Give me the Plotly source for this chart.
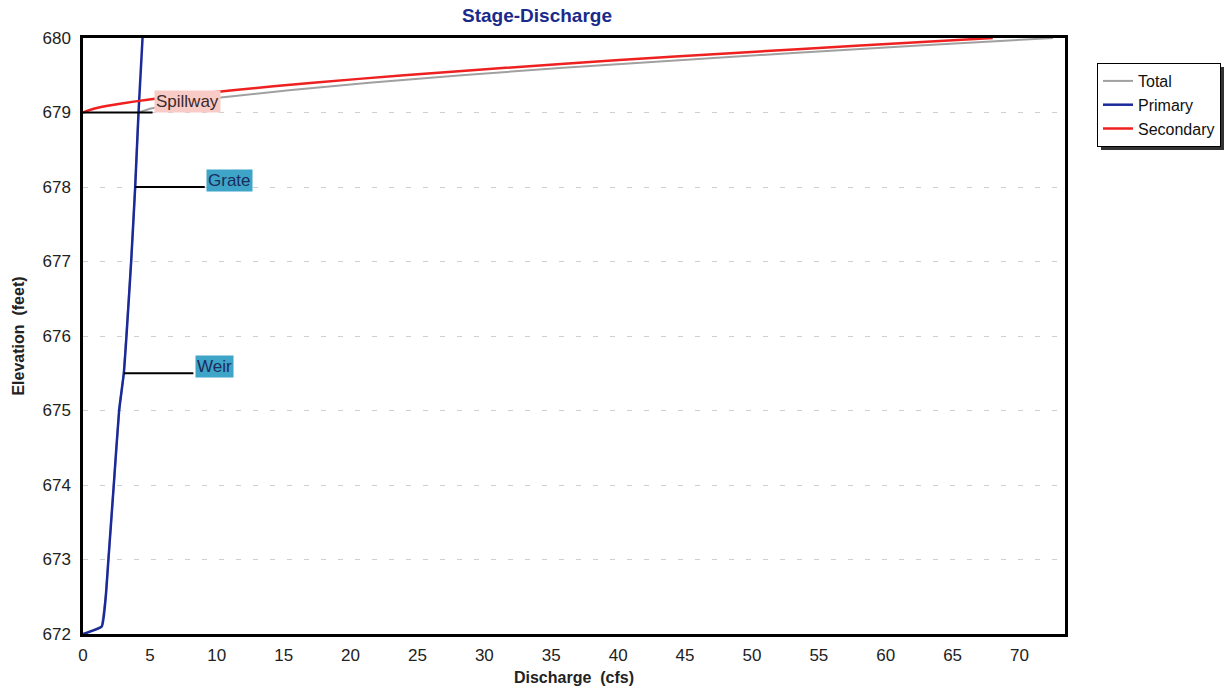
import numpy as np
import plotly.graph_objects as go

# Primary outlet (weir + grate) rating
primary_elev = [672.0, 672.1, 672.5, 673.0, 674.0, 675.0, 675.5, 676.0, 677.0, 678.0, 679.0, 679.5, 680.0]
primary_q = [0.0, 1.4, 1.7, 1.9, 2.3, 2.7, 3.05, 3.25, 3.6, 3.9, 4.15, 4.3, 4.45]

# Secondary outlet (emergency spillway) rating
secondary_elev = [679.0, 679.05, 679.1, 679.2, 679.3, 679.4, 679.5, 679.6, 679.7, 679.8, 679.9, 680.0]
secondary_q = [0.0, 0.8, 2.2, 6.1, 11.2, 17.2, 24.0, 31.6, 39.8, 48.7, 58.1, 68.0]

# Combined outflow
total_elev = [672.0, 672.1, 672.5, 673.0, 674.0, 675.0, 675.5, 676.0, 677.0, 678.0, 679.0,
              679.05, 679.1, 679.2, 679.3, 679.4, 679.5, 679.6, 679.7, 679.8, 679.9, 680.0]
total_q = [0.0, 1.4, 1.7, 1.9, 2.3, 2.7, 3.05, 3.25, 3.6, 3.9, 4.15,
           5.0, 6.4, 10.3, 15.4, 21.4, 28.3, 35.9, 44.1, 53.1, 62.5, 72.5]

# Outlet device callouts
device_names = ["Spillway", "Grate", "Weir"]
device_elev = [679.0, 678.0, 675.5]
device_x0 = [0.0, 3.9, 3.05]
device_bg = ["#f9cbc6", "#3ea4c8", "#3ea4c8"]
device_fg = ["#3a2a2a", "#1c2c5c", "#1c2c5c"]
leader_len = 5.2

x_ticks = list(range(0, 75, 5))
y_ticks = list(range(672, 681))

fig = go.Figure()
fig.add_trace(go.Scatter(x=total_q, y=total_elev, name="Total", mode="lines",
                         line=dict(color="#a0a0a0", width=2)))
fig.add_trace(go.Scatter(x=primary_q, y=primary_elev, name="Primary", mode="lines",
                         line=dict(color="#1a2a9a", width=2.5, shape="spline", smoothing=0.4)))
fig.add_trace(go.Scatter(x=secondary_q, y=secondary_elev, name="Secondary", mode="lines",
                         line=dict(color="#ee2020", width=2.5, shape="spline", smoothing=0.6)))

for name, el, x0, bg, fg in zip(device_names, device_elev, device_x0, device_bg, device_fg):
    fig.add_shape(type="line", x0=x0, x1=x0 + leader_len, y0=el, y1=el,
                  xref="x", yref="y", line=dict(color="black", width=2), layer="above")
    fig.add_annotation(x=x0 + leader_len + 0.1, y=el, xref="x", yref="y",
                       text=name, showarrow=False, xanchor="left",
                       yanchor="bottom" if name == "Spillway" else "middle",
                       yshift=0 if name == "Spillway" else 7,
                       bgcolor=bg, font=dict(family="Arial", size=17, color=fg),
                       borderpad=1)

# legend drop shadow
fig.add_shape(type="rect", xref="paper", yref="paper",
              x0=(1101 - 83) / 982, x1=(1224 - 83) / 982,
              y0=(634 - 150) / 596, y1=(634 - 67) / 596,
              fillcolor="#333333", line=dict(width=0), layer="below")

fig.update_layout(
    width=1228, height=690,
    margin=dict(l=83, r=163, t=38, b=56, autoexpand=False),
    paper_bgcolor="white", plot_bgcolor="white",
    title=dict(text="<b>Stage-Discharge</b>", x=537 / 1228, xanchor="center", y=0.987, yanchor="top",
               font=dict(family="Arial", size=19, color="#1a2a8a")),
    font=dict(family="Arial", size=17, color="#222222"),
    legend=dict(x=(1097 - 83) / 982, y=(634 - 63) / 596, xanchor="left", yanchor="top",
                bgcolor="white", bordercolor="black", borderwidth=1,
                font=dict(family="Arial", size=16, color="#111111"),
                tracegroupgap=0, itemwidth=30),
    showlegend=True,
)
fig.update_xaxes(range=[0, 73.4], tickvals=x_ticks, showgrid=False, zeroline=False,
                 showline=True, linecolor="black", linewidth=2.5, mirror=True,
                 ticks="", ticklen=0, ticklabelstandoff=4, automargin=False,
                 title=dict(text="<b>Discharge  (cfs)</b>", font=dict(family="Arial", size=16), standoff=8))
fig.update_yaxes(range=[672, 680], tickvals=y_ticks, showgrid=True, gridcolor="#cfcfcf",
                 griddash="5px,12px", gridwidth=1, zeroline=False,
                 showline=True, linecolor="black", linewidth=2.5, mirror=True,
                 ticks="", ticklen=0, ticklabelstandoff=6, automargin=False,
                 title=dict(text="<b>Elevation  (feet)</b>", font=dict(family="Arial", size=16), standoff=14))

fig.write_html("out.html")
